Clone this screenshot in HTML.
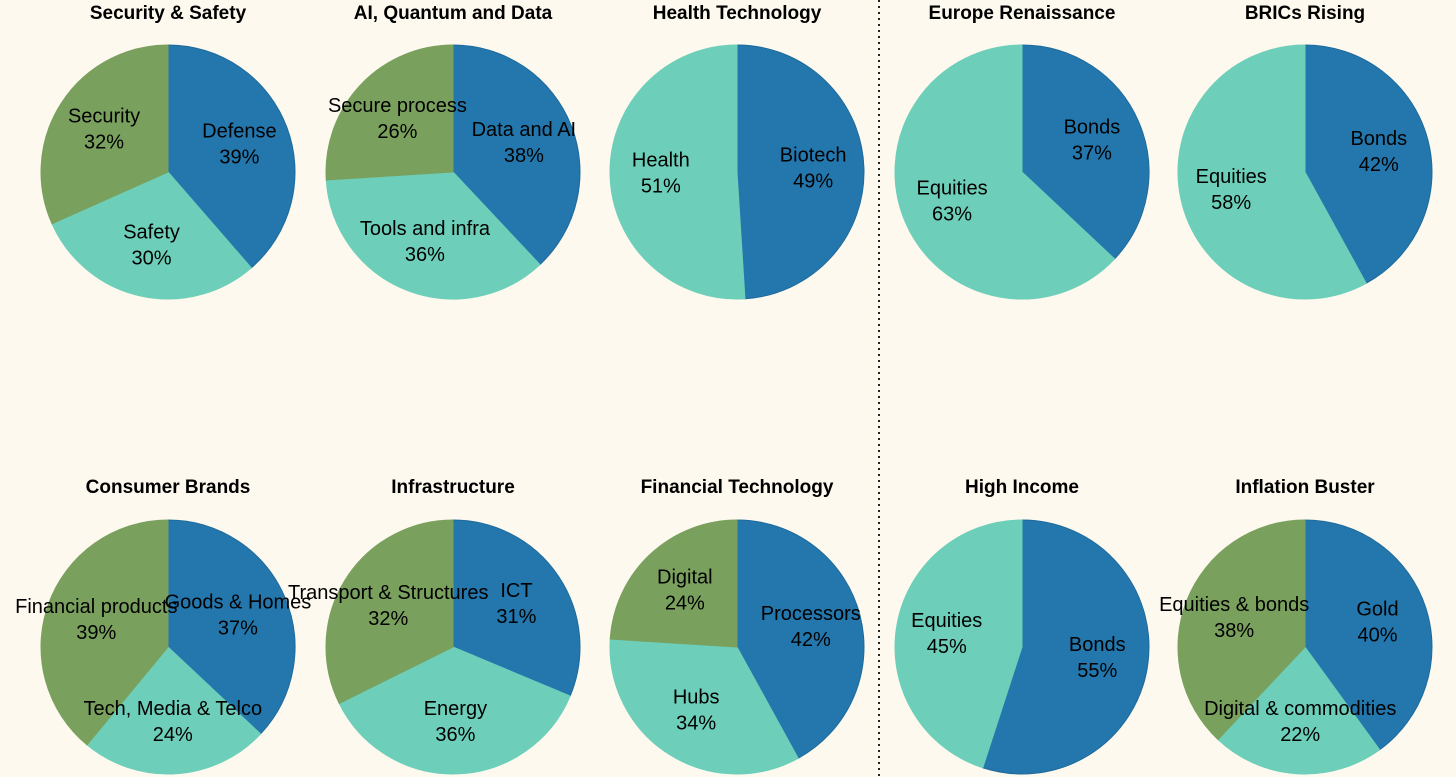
<!DOCTYPE html>
<html><head><meta charset="utf-8"><style>
html,body{margin:0;padding:0;background:#fdf9ee;}
svg{display:block;font-family:"Liberation Sans",sans-serif;}
</style></head><body>
<svg id="chart" width="1456" height="777" viewBox="0 0 1456 777">
<rect width="1456" height="777" fill="#fdf9ee"/>
<line x1="879" y1="0" x2="879" y2="777" stroke="#222" stroke-width="2" stroke-dasharray="2,4"/>
</svg>
<script>
const titles = ["Security & Safety","AI, Quantum and Data","Health Technology","Europe Renaissance","BRICs Rising","Consumer Brands","Infrastructure","Financial Technology","High Income","Inflation Buster"];
const sliceLabels = [
 ["Defense","Safety","Security"],
 ["Data and AI","Tools and infra","Secure process"],
 ["Biotech","Health"],
 ["Bonds","Equities"],
 ["Bonds","Equities"],
 ["Goods & Homes","Tech, Media & Telco","Financial products"],
 ["ICT","Energy","Transport & Structures"],
 ["Processors","Hubs","Digital"],
 ["Bonds","Equities"],
 ["Gold","Digital & commodities","Equities & bonds"]
];
const sliceValues = [
 [39,30,32],[38,36,26],[49,51],[37,63],[42,58],[37,24,39],[31,36,32],[42,34,24],[55,45],[40,22,38]
];
const colors = ["#2377ad","#6dcfb9","#7aa05e"];
const cxs = [168,453,737,1022,1305];
const cys = [172,647];
const titleY = [19,493];
const R = 127;
const svg = document.getElementById('chart');
const NS = "http://www.w3.org/2000/svg";
titles.forEach((t,i)=>{
  const cx = cxs[i%5], cy = cys[Math.floor(i/5)];
  const g = document.createElementNS(NS,'g');
  
  
  svg.appendChild(g);
  const tt = document.createElementNS(NS,'text');
  tt.setAttribute('x',cx); tt.setAttribute('y',titleY[Math.floor(i/5)]);
  tt.setAttribute('text-anchor','middle'); tt.setAttribute('font-weight','bold'); tt.setAttribute('font-size','19');
  tt.setAttribute('fill','#000');
  tt.textContent = t;
  
  
  g.appendChild(tt);
  const vals = sliceValues[i];
  const total = vals.reduce((a,b)=>a+b,0);
  let a0 = 0;
  vals.forEach((v,j)=>{
    const a1 = a0 + v/total*2*Math.PI;
    const x0 = cx+R*Math.sin(a0), y0 = cy-R*Math.cos(a0);
    const x1 = cx+R*Math.sin(a1), y1 = cy-R*Math.cos(a1);
    const large = (a1-a0)>Math.PI?1:0;
    const p = document.createElementNS(NS,'path');
    p.setAttribute('d',`M${cx},${cy} L${x0},${y0} A${R},${R} 0 ${large} 1 ${x1},${y1} Z`);
    p.setAttribute('fill',colors[j]);
    p.setAttribute('stroke', j===0 ? '#1f6a9c' : colors[j]);
    p.setAttribute('stroke-width','1');
    
    
    g.appendChild(p);
    a0 = a1;
  });
  a0 = 0;
  vals.forEach((v,j)=>{
    const a1 = a0 + v/total*2*Math.PI;
    const am = (a0+a1)/2;
    const lx = cx+R*0.6*Math.sin(am), ly = cy-R*0.6*Math.cos(am);
    const tx = document.createElementNS(NS,'text');
    tx.setAttribute('x',lx); tx.setAttribute('y',ly-8);
    tx.setAttribute('text-anchor','middle'); tx.setAttribute('font-size','20'); tx.setAttribute('fill','#000');
    const s1 = document.createElementNS(NS,'tspan');
    s1.setAttribute('x',lx); s1.textContent = sliceLabels[i][j];
    const s2 = document.createElementNS(NS,'tspan');
    s2.setAttribute('x',lx); s2.setAttribute('dy','26'); s2.textContent = v + '%';
    tx.appendChild(s1); tx.appendChild(s2);
    
    
    g.appendChild(tx);
    a0 = a1;
  });
});
</script>
</body></html>
